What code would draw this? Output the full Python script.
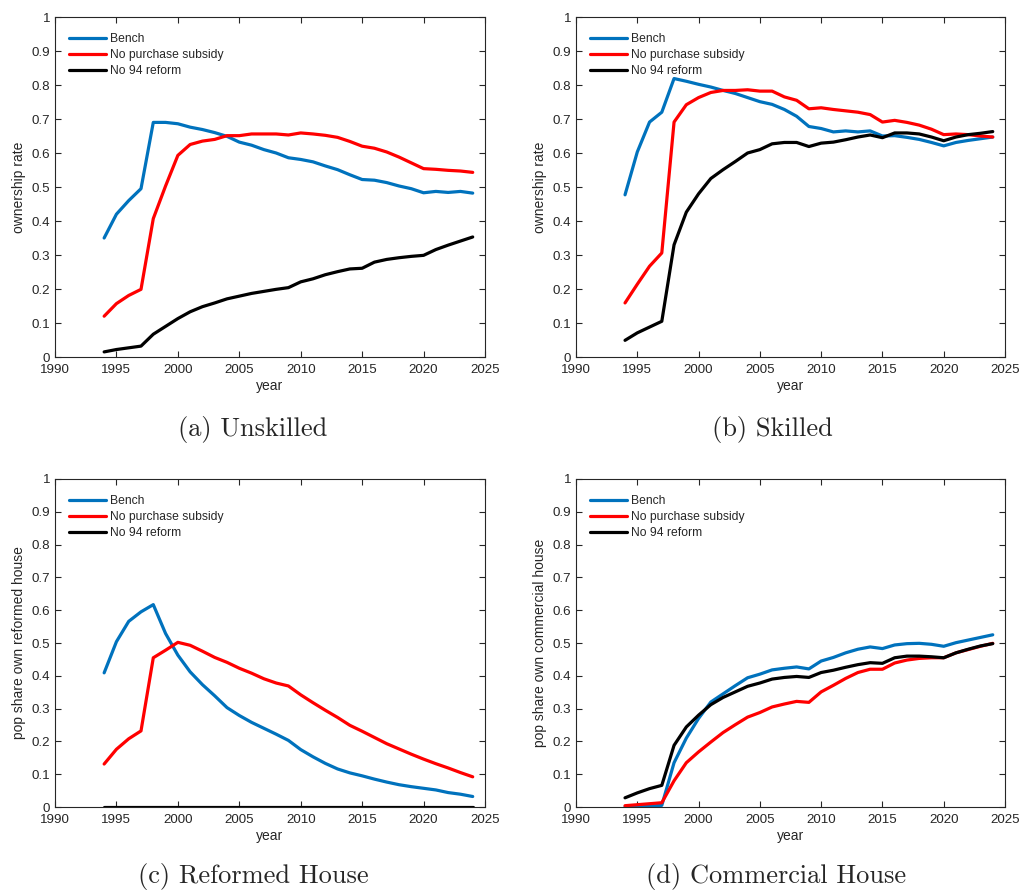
import numpy as np, pandas as pd, matplotlib
matplotlib.use("Agg")
import matplotlib.pyplot as plt, seaborn as sns

# Années simulées
years = list(range(1994, 2025))
series_names = ["Bench", "No purchase subsidy", "No 94 reform"]
couleurs = ["#0072BD", "#FF0000", "#000000"]

# (a) Unskilled - ownership rate
a_bench = [0.35, 0.42, 0.46, 0.495, 0.69, 0.69, 0.686, 0.676, 0.669, 0.66, 0.649, 0.632, 0.623, 0.61, 0.60,
           0.586, 0.581, 0.574, 0.562, 0.551, 0.536, 0.522, 0.52, 0.513, 0.503, 0.495, 0.483, 0.487, 0.484, 0.487, 0.482]
a_nosub = [0.12, 0.157, 0.181, 0.199, 0.407, 0.503, 0.593, 0.625, 0.635, 0.64, 0.651, 0.651, 0.656, 0.656, 0.656,
           0.653, 0.659, 0.656, 0.652, 0.646, 0.634, 0.62, 0.614, 0.603, 0.588, 0.571, 0.554, 0.552, 0.549, 0.547, 0.543]
a_no94 = [0.015, 0.022, 0.027, 0.032, 0.067, 0.09, 0.113, 0.133, 0.148, 0.159, 0.171, 0.179, 0.187, 0.193, 0.199,
          0.204, 0.221, 0.23, 0.242, 0.251, 0.259, 0.261, 0.279, 0.287, 0.292, 0.296, 0.299, 0.316, 0.329, 0.341, 0.353]

# (b) Skilled - ownership rate
b_bench = [0.477, 0.603, 0.691, 0.72, 0.819, 0.811, 0.802, 0.794, 0.784, 0.775, 0.763, 0.751, 0.743, 0.728, 0.708,
           0.678, 0.672, 0.662, 0.665, 0.662, 0.665, 0.65, 0.651, 0.646, 0.64, 0.631, 0.621, 0.631, 0.637, 0.642, 0.647]
b_nosub = [0.159, 0.214, 0.267, 0.306, 0.691, 0.742, 0.763, 0.778, 0.784, 0.784, 0.786, 0.782, 0.782, 0.765, 0.755,
           0.73, 0.733, 0.728, 0.724, 0.72, 0.713, 0.691, 0.696, 0.69, 0.682, 0.67, 0.654, 0.656, 0.654, 0.65, 0.647]
b_no94 = [0.049, 0.071, 0.088, 0.105, 0.33, 0.426, 0.48, 0.525, 0.551, 0.575, 0.6, 0.61, 0.627, 0.631, 0.631,
          0.619, 0.629, 0.632, 0.639, 0.647, 0.653, 0.645, 0.659, 0.659, 0.656, 0.647, 0.636, 0.647, 0.654, 0.658, 0.663]

# (c) Reformed House
c_bench = [0.409, 0.504, 0.566, 0.595, 0.617, 0.529, 0.463, 0.412, 0.373, 0.339, 0.303, 0.279, 0.258, 0.24, 0.222,
           0.203, 0.175, 0.153, 0.133, 0.116, 0.104, 0.095, 0.085, 0.076, 0.068, 0.062, 0.057, 0.052, 0.044, 0.039, 0.032]
c_nosub = [0.131, 0.176, 0.208, 0.232, 0.455, 0.478, 0.502, 0.493, 0.475, 0.456, 0.441, 0.423, 0.408, 0.391, 0.378,
           0.369, 0.342, 0.318, 0.295, 0.273, 0.249, 0.231, 0.212, 0.193, 0.177, 0.161, 0.146, 0.132, 0.119, 0.105, 0.092]
c_no94 = [0.0] * 31

# (d) Commercial House
d_bench = [0.001, 0.002, 0.003, 0.005, 0.135, 0.21, 0.27, 0.32, 0.345, 0.37, 0.394, 0.405, 0.418, 0.423, 0.427,
           0.421, 0.445, 0.456, 0.47, 0.481, 0.488, 0.483, 0.494, 0.498, 0.499, 0.496, 0.49, 0.501, 0.509, 0.517, 0.525]
d_nosub = [0.004, 0.007, 0.01, 0.013, 0.08, 0.135, 0.168, 0.198, 0.227, 0.251, 0.274, 0.288, 0.305, 0.314, 0.322,
           0.319, 0.351, 0.371, 0.392, 0.41, 0.42, 0.42, 0.439, 0.448, 0.453, 0.455, 0.455, 0.47, 0.48, 0.49, 0.499]
d_no94 = [0.028, 0.043, 0.056, 0.066, 0.188, 0.244, 0.28, 0.312, 0.334, 0.351, 0.368, 0.378, 0.39, 0.395, 0.398,
          0.395, 0.41, 0.417, 0.426, 0.434, 0.44, 0.438, 0.455, 0.46, 0.46, 0.458, 0.455, 0.47, 0.481, 0.491, 0.498]

ylabels = ["ownership rate", "ownership rate", "pop share own reformed house", "pop share own commercial house"]
captions = ["(a) Unskilled", "(b) Skilled", "(c) Reformed House", "(d) Commercial House"]

sns.set_style("ticks")
plt.rcParams['font.family'] = ['Liberation Sans', 'DejaVu Sans']
plt.rcParams['xtick.direction'] = 'in'
plt.rcParams['ytick.direction'] = 'in'

fig = plt.figure(figsize=(10.21, 8.93), dpi=100)
W, H = 1021, 893
positions = [(55, 17, 485, 357), (576, 17, 1005, 357), (55, 479, 485, 807), (576, 479, 1005, 807)]
panels = [(a_bench, a_nosub, a_no94), (b_bench, b_nosub, b_no94), (c_bench, c_nosub, c_no94), (d_bench, d_nosub, d_no94)]
caption_pos = [(253, 430), (772, 430), (253, 877), (776, 877)]

for i, (données, pos) in enumerate(zip(panels, positions)):
    x0, y0, x1, y1 = pos
    ax = fig.add_axes([x0 / W, 1 - y1 / H, (x1 - x0) / W, (y1 - y0) / H])
    df = pd.DataFrame({"year": years * 3,
                       "value": données[0] + données[1] + données[2],
                       "série": sum([[n] * len(years) for n in series_names], [])})
    sns.lineplot(data=df, x="year", y="value", hue="série", hue_order=series_names,
                 palette=couleurs, linewidth=2.3, ax=ax)
    ax.set_xlim(1990, 2025)
    ax.set_ylim(0, 1)
    ax.set_xticks(range(1990, 2026, 5))
    ax.set_yticks(np.arange(0, 1.01, 0.1))
    ax.set_yticklabels(["0"] + [f"{v:.1f}" for v in np.arange(0.1, 0.95, 0.1)] + ["1"])
    ax.tick_params(top=True, right=True, labelsize=9.6, length=4, width=0.8, colors="#262626")
    ax.tick_params(axis="x", pad=5)
    for s in ax.spines.values():
        s.set_visible(True)
        s.set_linewidth(0.8)
        s.set_color("#262626")
    ax.set_xlabel("year", fontsize=10, color="#262626", labelpad=2)
    ax.set_ylabel(ylabels[i], fontsize=10, color="#262626")
    hauteur = y1 - y0
    ax.legend(frameon=False, loc="upper left", fontsize=8.7, handlelength=3.1, handletextpad=0.3,
              labelspacing=0.35, borderaxespad=0.5, bbox_to_anchor=(3 / (x1 - x0), 1 - 5 / hauteur))
    cx, cy = caption_pos[i]
    fig.text(cx / W, 1 - cy / H, captions[i], family="cmr10", fontsize=19, ha="center", va="center")

plt.savefig("out.png", dpi=100)
